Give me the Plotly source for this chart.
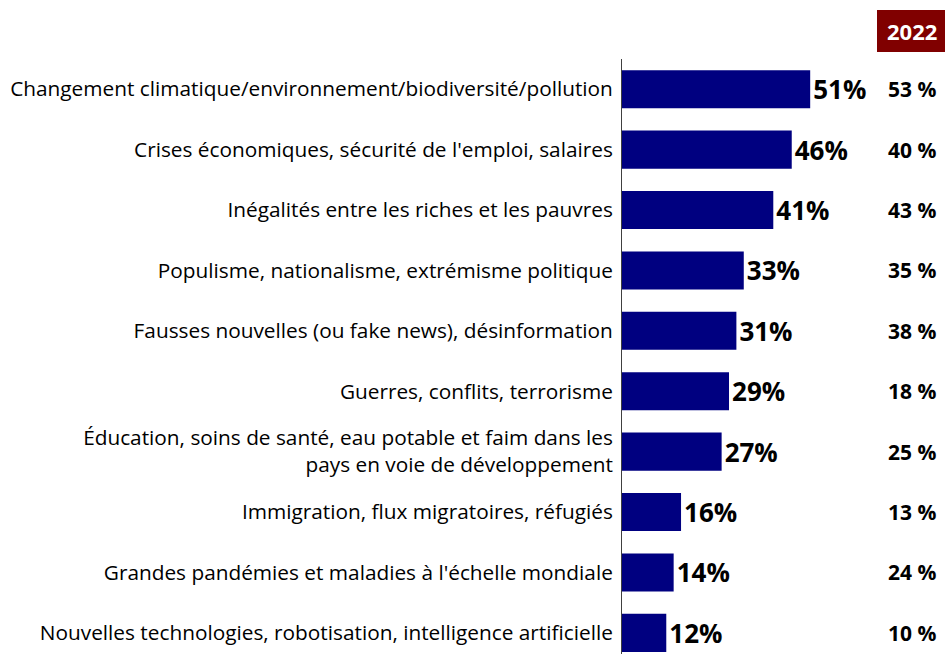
import plotly.graph_objects as go

categories = [
    "Changement climatique/environnement/biodiversité/pollution",
    "Crises économiques, sécurité de l'emploi, salaires",
    "Inégalités entre les riches et les pauvres",
    "Populisme, nationalisme, extrémisme politique",
    "Fausses nouvelles (ou fake news), désinformation",
    "Guerres, conflits, terrorisme",
    "Éducation, soins de santé, eau potable et faim dans les<br>pays en voie de développement",
    "Immigration, flux migratoires, réfugiés",
    "Grandes pandémies et maladies à l'échelle mondiale",
    "Nouvelles technologies, robotisation, intelligence artificielle",
]
values_current = [51, 46, 41, 33, 31, 29, 27, 16, 14, 12]
values_2022 = [53, 40, 43, 35, 38, 18, 25, 13, 24, 10]
header_label = "2022"

W, H = 945, 654
ml, mt = 622, 59
plot_w = W - ml
plot_h = H - mt
px_per_unit = 3.69

FONT = "Open Sans"

def px_x(x):
    return (x - ml) / plot_w

def px_y(y):
    return (H - y) / plot_h

fig = go.Figure()
fig.add_trace(go.Bar(
    y=list(range(len(categories))),
    x=values_current,
    orientation="h",
    marker=dict(color="#000080", line=dict(width=0)),
    width=0.63,
    text=[f"{v}%" for v in values_current],
    textposition="outside",
    textfont=dict(family=FONT, size=26, color="#000000", weight="bold"),
    cliponaxis=False,
    hoverinfo="skip",
))

for i, v in enumerate(values_2022):
    fig.add_annotation(
        x=px_x(912), xref="paper", y=i, yref="y",
        text=f"<b>{v} %</b>", showarrow=False,
        font=dict(family=FONT, size=21, color="#000000"),
        xanchor="center", yanchor="middle",
    )

fig.add_shape(type="rect", xref="paper", yref="paper",
              x0=px_x(877), x1=1.0,
              y0=px_y(52), y1=px_y(10),
              fillcolor="#800000", line=dict(width=0), layer="above")
fig.add_annotation(x=px_x(912), xref="paper", y=px_y(31), yref="paper",
                   text=f"<b>{header_label}</b>", showarrow=False,
                   font=dict(family=FONT, size=22, color="#ffffff"),
                   xanchor="center", yanchor="middle")

fig.update_layout(
    width=W, height=H,
    margin=dict(l=ml, r=0, t=mt, b=0, pad=0),
    plot_bgcolor="white", paper_bgcolor="white",
    showlegend=False,
    font=dict(family=FONT, size=20.8, color="#000000"),
    xaxis=dict(range=[0, plot_w / px_per_unit], visible=False, fixedrange=True),
    yaxis=dict(
        range=[9.35, -0.5],
        tickmode="array",
        tickvals=list(range(len(categories))),
        ticktext=categories,
        showline=True, linecolor="#404040", linewidth=1,
        showgrid=False, zeroline=False, ticks="",
        ticklabelstandoff=4,
        tickfont=dict(family=FONT, size=20.8, color="#000000"),
        fixedrange=True,
    ),
)

fig.write_html(
    "out.html",
    config={"displayModeBar": False},
    post_script="document.body.style.margin='0';document.body.style.overflow='hidden';",
)
